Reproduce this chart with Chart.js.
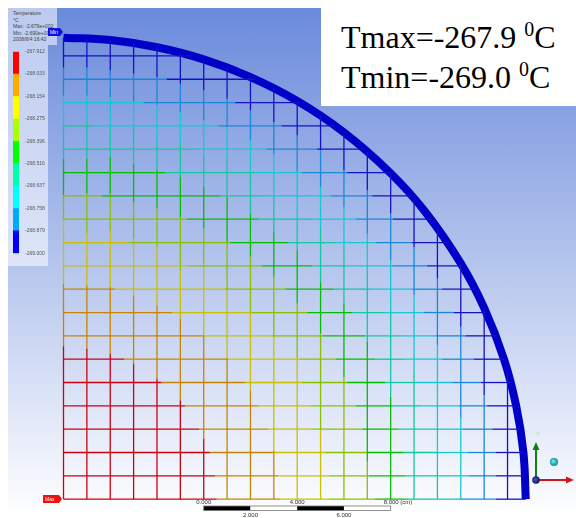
<!DOCTYPE html>
<html>
<head>
<meta charset="utf-8">
<script src="https://cdn.jsdelivr.net/npm/chart.js@4/dist/chart.umd.min.js"></script>
<style>
  html, body { margin: 0; background: #fff; }
  #stage { position: relative; width: 576px; height: 518px; overflow: hidden; }
  #bg { position: absolute; left: 8px; top: 8px; width: 568px; height: 510px;
        background: linear-gradient(#6a8adb, #ffffff); }
  #panelTop { position: absolute; left: 8px; top: 8px; width: 49px; height: 37px; background: rgba(255,255,255,0.55); }
  #panel { position: absolute; left: 8px; top: 45px; width: 40px; height: 221px; background: rgba(255,255,255,0.55); }
  #head { position: absolute; left: 13px; top: 10px; font: 5px/6.6px "Liberation Sans", sans-serif; color: #444; white-space: nowrap; }
  #box { position: absolute; left: 321px; top: 8px; width: 255px; height: 98px; background: #fff; }
  #box div { position: absolute; left: 20px; font: 32px "Liberation Serif", serif; color: #000; white-space: nowrap; }
  #box sup { font-size: 20px; line-height: 0; }
  canvas { position: absolute; }
</style>
</head>
<body>
<div id="stage">
  <div id="bg"></div>
  <div id="panelTop"></div>
  <div id="panel"></div>
  <div id="head">Temperature<br>°C<br>Max: -2.679e+002<br>Min: -2.690e+002<br>2008/8/4 16:42</div>
  <canvas id="fieldChart" width="576" height="518" style="left:0;top:0"></canvas>
  <canvas id="barChart" width="36" height="225" style="left:13px;top:40px"></canvas>
  <div id="box">
    <div style="top:11px">Tmax=-267.9 <sup>0</sup>C</div>
    <div style="top:51px">Tmin=-269.0 <sup>0</sup>C</div>
  </div>
</div>
<script>
// temperature bands, coldest first
const bandColors = ['#1212c4', '#1888d8', '#14c8d4', '#12c8a0', '#04bc04', '#88c000', '#c8c000', '#c88400', '#cc0010'];
const legendColors = ['#0000ff', '#00aaff', '#00ffff', '#00ffaa', '#00ff00', '#aaff00', '#ffff00', '#ffaa00', '#ff0000'];
const legendTicks = [-269.000, -268.879, -268.758, -268.637, -268.516, -268.396, -268.275, -268.154, -268.033, -267.912];

// horizontal mesh lines, bottom to top: band at x=0, then x (cm) where it drops one band
const rowStart = [8, 8, 8, 8, 8, 8, 8, 7, 7, 7, 6, 6, 5, 5, 4, 3, 3, 2, 1, 0];
const rowBreaks = [
  [6.56, 9.27, 11.35, 13.3, 14.8, 15.9, 17.0, 18.5],
  [6.49, 9.2, 11.35, 13.07, 14.64, 16.06, 17.35, 18.5],
  [6.28, 8.99, 11.2, 13.0, 14.56, 16.0, 17.28, 18.5],
  [5.82, 8.77, 10.64, 12.78, 14.35, 15.99, 17.06, 18.35],
  [5.2, 8.35, 10.57, 12.5, 14.07, 15.35, 16.92, 18.13],
  [4.2, 7.77, 10.2, 12.14, 13.78, 15.06, 16.63, 17.85],
  [2.6, 7.06, 10.1, 11.64, 13.35, 14.64, 16.2, 17.56],
  [5.99, 8.9, 11.07, 12.92, 14.49, 15.92, 17.2],
  [4.64, 8.06, 10.43, 12.35, 13.78, 15.42, 16.7],
  [2.2, 6.92, 9.49, 11.57, 13.2, 14.92, 16.2],
  [5.35, 8.49, 10.64, 12.07, 14.07, 15.56],
  [2.78, 7.13, 9.63, 11.64, 13.35, 14.92],
  [5.28, 8.35, 10.64, 12.5, 14.1],
  [1.64, 6.73, 8.5, 11.43, 13.21],
  [4.35, 8.2, 10.2, 12.14],
  [5.63, 8.7, 10.85],
  [1.2, 6.63, 9.34],
  [3.42, 7.35],
  [4.42],
  []
];

// vertical mesh lines, left to right: band at y=0, then y (cm) where it drops one band
const colStart = [8, 8, 8, 8, 8, 8, 8, 7, 7, 7, 6, 6, 5, 5, 4, 3, 3, 2, 1, 0];
const colBreaks = [
  [6.56, 9.24, 12.0, 13.03, 14.6, 16.0, 17.3, 18.5],
  [6.46, 9.17, 11.4, 13.1, 14.6, 16.2, 17.3, 18.5],
  [6.24, 9.1, 11.5, 13.1, 14.67, 15.96, 17.24, 18.39],
  [5.79, 8.74, 11.17, 12.74, 14.39, 15.96, 17.03, 18.24],
  [5.17, 8.31, 10.81, 12.46, 14.1, 15.24, 16.9, 18.1],
  [4.24, 7.74, 9.8, 12.1, 13.81, 15.24, 16.6, 17.81],
  [2.6, 7.03, 10.1, 11.6, 13.39, 14.67, 16.24, 17.53],
  [6.03, 9.0, 10.96, 12.96, 14.67, 15.96, 17.17],
  [4.67, 8.03, 10.39, 12.24, 13.96, 15.39, 16.67],
  [2.1, 7.03, 9.53, 11.47, 12.96, 14.81, 16.17],
  [6.0, 8.39, 10.67, 11.96, 14.03, 15.6],
  [3.0, 7.1, 9.3, 11.67, 13.4, 14.96],
  [5.24, 8.4, 10.9, 12.53, 14.1],
  [1.6, 6.74, 9.8, 11.39, 13.24],
  [4.39, 8.2, 10.24, 12.24],
  [5.5, 8.74, 10.81],
  [1.24, 6.6, 9.46],
  [3.46, 7.39],
  [4.46],
  []
];

// where each mesh line meets the rim
const meshEnds = [19.78, 19.75, 19.68, 19.55, 19.37, 19.14, 18.85, 18.5, 18.09, 17.61, 17.07, 16.44, 15.72, 14.91, 13.97, 12.89, 11.63, 10.11, 8.2, 5.5];

// rim of the quarter disc
const rimX = [0, 2, 4, 6, 8, 10, 12, 14, 15.5, 17, 18, 18.85, 19.37, 19.68, 19.78];
const rimY = [19.78, 19.68, 19.37, 18.85, 18.09, 17.07, 15.72, 13.97, 12.29, 10.11, 8.2, 6, 4, 2, 0];

const scaleBarCm = [0, 2, 4, 6, 8];
const scaleBarLabels = ['0.000', '2.000', '4.000', '6.000', '8.000 (cm)'];

function meshLine(index, start, breaks, horizontal) {
    const along = [0, ...breaks, meshEnds[index]];
    const data = along.map(v => horizontal ? { x: v, y: index } : { x: index, y: v });
    return {
        data,
        showLine: true,
        pointRadius: 0,
        borderWidth: 1.3,
        borderColor: bandColors[start],
        segment: { borderColor: c => bandColors[start - c.p0DataIndex] }
    };
}

const datasets = [];
rowBreaks.forEach((b, i) => datasets.push(meshLine(i, rowStart[i], b, true)));
colBreaks.forEach((b, i) => datasets.push(meshLine(i, colStart[i], b, false)));
datasets.push({
    data: rimX.map((x, i) => ({ x, y: rimY[i] })),
    showLine: true,
    pointRadius: 0,
    borderWidth: 8,
    borderColor: '#0000c8',
    tension: 0.4,
    borderCapStyle: 'butt'
});

function tag(ctx, x, y, w, color, text) {
    // flag with its tip on (x, y)
    ctx.fillStyle = color;
    ctx.beginPath();
    ctx.moveTo(x - w, y - 4);
    ctx.lineTo(x - 3, y - 4);
    ctx.lineTo(x, y);
    ctx.lineTo(x - 3, y + 4);
    ctx.lineTo(x - w, y + 4);
    ctx.closePath();
    ctx.fill();
    ctx.fillStyle = '#fff';
    ctx.font = '5px "Liberation Sans"';
    ctx.textAlign = 'left';
    ctx.textBaseline = 'middle';
    ctx.fillText(text, x - w + 2, y + 0.5);
}

function arrow(ctx, x0, y0, x1, y1, color) {
    const a = Math.atan2(y1 - y0, x1 - x0);
    ctx.strokeStyle = color;
    ctx.fillStyle = color;
    ctx.lineWidth = 2;
    ctx.beginPath();
    ctx.moveTo(x0, y0);
    ctx.lineTo(x1 - 6 * Math.cos(a), y1 - 6 * Math.sin(a));
    ctx.stroke();
    ctx.save();
    ctx.translate(x1, y1);
    ctx.rotate(a);
    ctx.beginPath();
    ctx.moveTo(0, 0);
    ctx.lineTo(-8, -3.5);
    ctx.lineTo(-8, 3.5);
    ctx.closePath();
    ctx.fill();
    ctx.restore();
}

function ball(ctx, x, y, r, light, dark) {
    const g = ctx.createRadialGradient(x - 1, y - 1, 0.5, x, y, r);
    g.addColorStop(0, light);
    g.addColorStop(1, dark);
    ctx.fillStyle = g;
    ctx.beginPath();
    ctx.arc(x, y, r, 0, Math.PI * 2);
    ctx.fill();
}

const decorations = {
    id: 'decorations',
    afterDraw(chart) {
        const { ctx, scales } = chart;
        ctx.save();
        tag(ctx, 63, 32, 15, '#1010e0', 'Min');
        tag(ctx, 62, 499, 19, '#f01010', 'Max');

        // scale bar, starts under the 6 cm mesh line
        const px = cm => scales.x.getPixelForValue(6 + cm);
        scaleBarCm.slice(0, -1).forEach((cm, i) => {
            ctx.fillStyle = i % 2 ? '#fff' : '#000';
            ctx.fillRect(px(cm), 506, px(scaleBarCm[i + 1]) - px(cm), 4.5);
        });
        ctx.strokeStyle = '#777';
        ctx.lineWidth = 0.8;
        ctx.strokeRect(px(0), 506, px(8) - px(0), 4.5);
        ctx.fillStyle = '#333';
        ctx.font = '6px "Liberation Sans"';
        ctx.textBaseline = 'middle';
        scaleBarCm.forEach((cm, i) => {
            ctx.textAlign = i === 4 ? 'left' : 'center';
            const x = i === 4 ? px(cm) - 7 : px(cm);
            ctx.fillText(scaleBarLabels[i], x, i % 2 ? 515 : 502.5);
        });

        // triad
        arrow(ctx, 536, 480, 574, 480, '#d01818');
        arrow(ctx, 536, 480, 536, 442, '#108010');
        ball(ctx, 536, 480, 3.8, '#4050c0', '#101860');
        ball(ctx, 554, 462, 4, '#60f0f0', '#108898');
        ctx.fillStyle = '#a8d8b0';
        ctx.textAlign = 'center';
        ctx.fillText('Y', 538, 434);
        ctx.restore();
    }
};

new Chart(document.getElementById('fieldChart'), {
    type: 'scatter',
    data: { datasets },
    plugins: [decorations],
    options: {
        responsive: false,
        animation: false,
        events: [],
        layout: { padding: 0 },
        plugins: { legend: { display: false }, tooltip: { enabled: false } },
        scales: {
            // 63.5px = 0 cm, 23.37 px/cm; 499.17px = 0 cm, 23.33 px/cm
            x: { type: 'linear', display: false, min: -63.5 / 23.37, max: (576 - 63.5) / 23.37 },
            y: { type: 'linear', display: false, min: (499.17 - 518) / 23.33, max: 499.17 / 23.33 }
        }
    }
});

new Chart(document.getElementById('barChart'), {
    type: 'bar',
    data: {
        labels: [''],
        datasets: legendColors.map((c, i) => ({
            data: [[legendTicks[i], legendTicks[i + 1]]],
            backgroundColor: c,
            grouped: false,
            barPercentage: 1,
            categoryPercentage: 1
        }))
    },
    options: {
        responsive: false,
        animation: false,
        events: [],
        layout: { padding: { top: 11.7, bottom: 11.7 } },
        plugins: { legend: { display: false }, tooltip: { enabled: false } },
        scales: {
            x: { display: false },
            y: {
                position: 'right',
                min: legendTicks[0],
                max: legendTicks[9],
                grid: { display: false, drawTicks: false },
                border: { display: false },
                afterBuildTicks: a => { a.ticks = legendTicks.map(value => ({ value })); },
                afterFit: a => { a.width = 30; },
                ticks: {
                    padding: 6,
                    autoSkip: false,
                    color: '#555',
                    font: { size: 5, family: '"Liberation Sans"' },
                    callback: v => v.toFixed(3)
                }
            }
        }
    }
});
</script>
</body>
</html>
